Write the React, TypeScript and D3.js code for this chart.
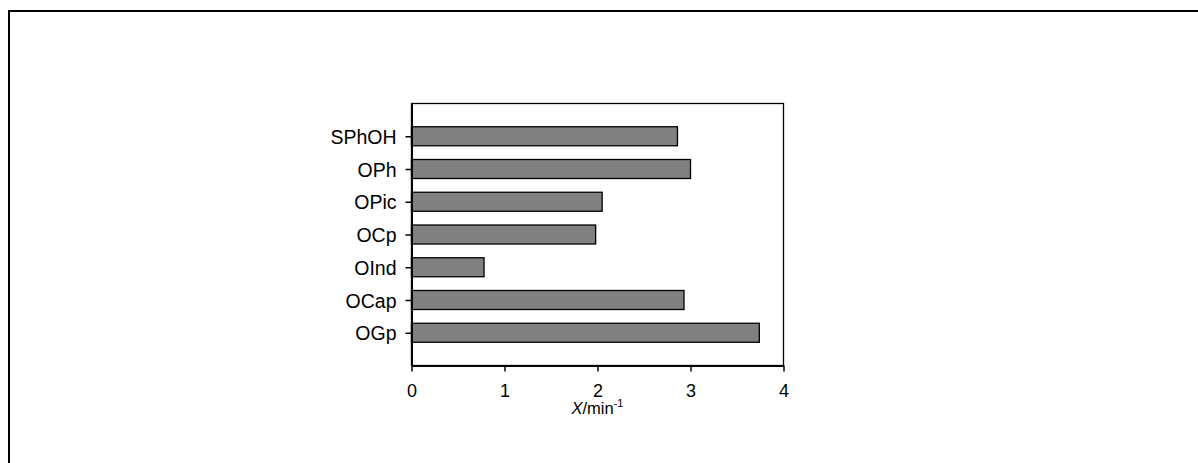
import * as d3 from 'd3'
import { useEffect, useRef } from 'react'

// categories top to bottom
const categories = ['SPhOH', 'OPh', 'OPic', 'OCp', 'OInd', 'OCap', 'OGp']
const values = [2.86, 3.0, 2.05, 1.98, 0.78, 2.93, 3.74]
const xTicks = [0, 1, 2, 3, 4]

export default function App() {
  const svgRef = useRef<SVGSVGElement>(null)

  useEffect(() => {
    const svg = d3.select(svgRef.current)
    svg.selectAll('*').remove()

    const left = 411.5, right = 783.5, top = 103.5, bottom = 365.5

    const x = d3.scaleLinear().domain([0, 4]).range([left, right])
    const y = d3.scalePoint<string>().domain(categories).range([top, bottom]).padding(1)
    const barH = 19

    // outer frame
    svg.append('rect')
      .attr('x', 9).attr('y', 11)
      .attr('width', 1250).attr('height', 600)
      .attr('fill', 'none').attr('stroke', '#000').attr('stroke-width', 2)

    // plot box
    svg.append('rect')
      .attr('x', left).attr('y', top)
      .attr('width', right - left).attr('height', bottom - top)
      .attr('fill', 'none').attr('stroke', '#000').attr('stroke-width', 1.3)

    // bars
    svg.append('g')
      .selectAll('rect')
      .data(categories)
      .join('rect')
      .attr('x', x(0))
      .attr('y', (d) => (y(d) as number) - barH / 2)
      .attr('width', (d, i) => x(values[i]) - x(0))
      .attr('height', barH)
      .attr('fill', '#808080')
      .attr('stroke', '#000')
      .attr('stroke-width', 1.3)

    // y axis
    const yAxis = svg.append('g')
      .attr('transform', `translate(${left},0)`)
      .call(d3.axisLeft(y).tickSizeInner(6).tickSizeOuter(0).tickPadding(9))
    yAxis.select('.domain').attr('stroke-width', 2)
    yAxis.selectAll('text')
      .attr('font-family', 'Liberation Sans, Arial, sans-serif')
      .attr('font-size', 19.5)
      .attr('fill', '#000')
      .attr('dy', '0.36em')
    yAxis.selectAll('line').attr('stroke-width', 1.5)

    // x axis
    const xAxis = svg.append('g')
      .attr('transform', `translate(0,${bottom})`)
      .call(d3.axisBottom(x).tickValues(xTicks).tickFormat(d3.format('d')).tickSizeInner(6).tickSizeOuter(0).tickPadding(13))
    xAxis.select('.domain').attr('stroke-width', 2)
    xAxis.selectAll('text')
      .attr('font-family', 'Liberation Sans, Arial, sans-serif')
      .attr('font-size', 18)
      .attr('fill', '#000')
    xAxis.selectAll('line').attr('stroke-width', 1.5)

    // axis title
    const title = svg.append('text')
      .attr('x', (left + right) / 2)
      .attr('y', 414)
      .attr('text-anchor', 'middle')
      .attr('font-family', 'Liberation Sans, Arial, sans-serif')
      .attr('font-size', 16.5)
      .attr('fill', '#000')
    title.append('tspan').attr('font-style', 'italic').text('X')
    title.append('tspan').text('/min')
    title.append('tspan').attr('font-size', 11).attr('dy', -7).text('-1')
  }, [])

  return (
    <svg
      ref={svgRef}
      width={1198}
      height={463}
      style={{ position: 'absolute', left: 0, top: 0, background: '#fff' }}
    />
  )
}
